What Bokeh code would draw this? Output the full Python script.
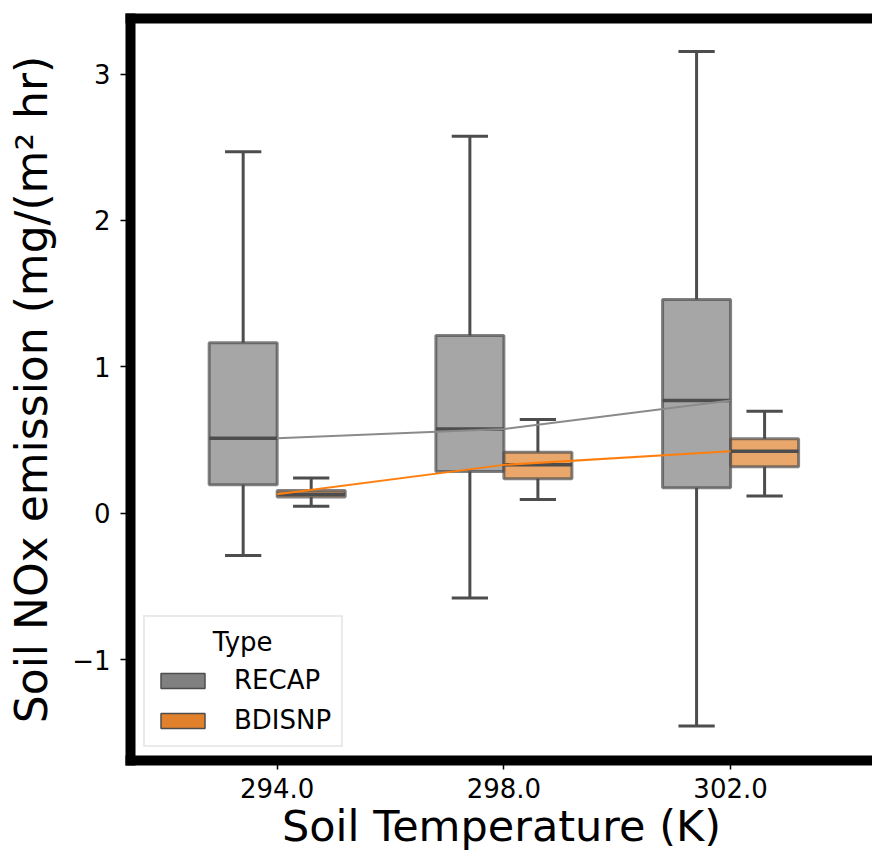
from bokeh.plotting import figure
from bokeh.models import (ColumnDataSource, Range1d, FixedTicker, LinearAxis,
                          Legend, LegendItem)
from bokeh.embed import file_html
from bokeh.resources import INLINE

# ---- data ----
temperatures = ["294.0", "298.0", "302.0"]
types = ["RECAP", "BDISNP"]

recap_low = [-0.29, -0.58, -1.455]
recap_q1 = [0.195, 0.285, 0.173]
recap_median = [0.512, 0.575, 0.77]
recap_q3 = [1.165, 1.214, 1.46]
recap_high = [2.47, 2.575, 3.155]

bdisnp_low = [0.047, 0.093, 0.118]
bdisnp_q1 = [0.11, 0.236, 0.318]
bdisnp_median = [0.13, 0.33, 0.423]
bdisnp_q3 = [0.155, 0.416, 0.508]
bdisnp_high = [0.24, 0.64, 0.697]

y_ticks = [-1, 0, 1, 2, 3]
y_tick_labels = ["\u22121", "0", "1", "2", "3"]

FONT = "DejaVu Sans"
LINE_DARK = "#4d4d4d"
GRAY = "#808080"
ORANGE = "#e1812c"
NAN = float("nan")

p = figure(width=872, height=856,
           x_range=Range1d(-0.647, 2.626), y_range=Range1d(-1.69, 3.38),
           output_backend="svg", toolbar_location=None,
           min_border_left=130, min_border_right=0,
           min_border_top=18, min_border_bottom=96)
p.outline_line_color = None
p.xgrid.visible = False
p.ygrid.visible = False
p.background_fill_color = "white"
p.border_fill_color = "white"

xpos = list(range(len(temperatures)))


def style_axis(ax):
    ax.axis_line_width = 10
    ax.axis_line_color = "black"
    ax.axis_line_cap = "square"
    ax.major_tick_in = 0
    ax.major_tick_out = 10
    ax.major_tick_line_width = 1.5
    ax.minor_tick_in = 0
    ax.minor_tick_out = 0
    ax.major_label_text_font = FONT
    ax.major_label_text_font_size = "26px"
    ax.major_label_text_color = "black"
    ax.axis_label_text_font = FONT
    ax.axis_label_text_font_style = "normal"
    ax.axis_label_text_color = "black"


xa = p.xaxis[0]
ya = p.yaxis[0]
style_axis(xa)
style_axis(ya)
xa.ticker = FixedTicker(ticks=xpos)
xa.major_label_overrides = {i: t for i, t in zip(xpos, temperatures)}
xa.major_tick_out = 9
xa.major_label_standoff = 8
xa.axis_label = "Soil Temperature (K)"
xa.axis_label_text_font_size = "43px"
xa.axis_label_standoff = 0

ya.ticker = FixedTicker(ticks=y_ticks)
ya.major_label_overrides = {v: t for v, t in zip(y_ticks, y_tick_labels)}
ya.major_label_standoff = 10
ya.axis_label = "Soil NOx emission (mg/(m\u00b2 hr)"
ya.axis_label_text_font_size = "44px"
ya.axis_label_standoff = 12

top = LinearAxis(ticker=FixedTicker(ticks=[]), axis_line_width=10,
                 axis_line_color="black", axis_line_cap="square",
                 major_tick_out=0, major_tick_in=0, minor_tick_out=0,
                 minor_tick_in=0, major_label_text_font_size="0px")
p.add_layout(top, "above")

BOX_W = 0.3
CAP_W = 0.16


def draw_boxes(low, q1, med, q3, high, side, fill):
    left = [x + (-BOX_W if side < 0 else 0) for x in xpos]
    right = [x + (0 if side < 0 else BOX_W) for x in xpos]
    center = [(a + b) / 2 for a, b in zip(left, right)]
    src = ColumnDataSource(dict(left=left, right=right, center=center,
                                cl=[c - CAP_W / 2 for c in center],
                                cr=[c + CAP_W / 2 for c in center],
                                low=low, q1=q1, med=med, q3=q3, high=high))
    p.quad(left="left", right="right", top="q3", bottom="q1", source=src,
           fill_color=fill, fill_alpha=0.7, line_color=LINE_DARK,
           line_alpha=0.7, line_width=3)
    p.segment(x0="center", y0="q3", x1="center", y1="high", source=src,
              line_color=LINE_DARK, line_width=3)
    p.segment(x0="center", y0="q1", x1="center", y1="low", source=src,
              line_color=LINE_DARK, line_width=3)
    p.segment(x0="cl", y0="high", x1="cr", y1="high", source=src,
              line_color=LINE_DARK, line_width=3)
    p.segment(x0="cl", y0="low", x1="cr", y1="low", source=src,
              line_color=LINE_DARK, line_width=3)
    p.segment(x0="left", y0="med", x1="right", y1="med", source=src,
              line_color=LINE_DARK, line_width=3.5)


draw_boxes(recap_low, recap_q1, recap_median, recap_q3, recap_high, -1, GRAY)
draw_boxes(bdisnp_low, bdisnp_q1, bdisnp_median, bdisnp_q3, bdisnp_high, 1, ORANGE)

# median trend lines
p.line(x=xpos, y=recap_median, line_color="#8a8a8a", line_width=2)
p.line(x=xpos, y=bdisnp_median, line_color="#ff7f0e", line_width=2)

# legend proxies (one undrawable row so the legend can render a swatch)
proxy = dict(l=[NAN], r=[NAN], t=[NAN], b=[NAN])
r1 = p.quad(left="l", right="r", top="t", bottom="b",
            source=ColumnDataSource(proxy), fill_color=GRAY,
            line_color=LINE_DARK, line_width=1.5)
r2 = p.quad(left="l", right="r", top="t", bottom="b",
            source=ColumnDataSource(dict(proxy)), fill_color=ORANGE,
            line_color=LINE_DARK, line_width=1.5)

legend = Legend(items=[LegendItem(label=types[0], renderers=[r1]),
                       LegendItem(label=types[1], renderers=[r2])],
                title="\u00a0" * 7 + "Type", location="bottom_left",
                label_text_font=FONT, label_text_font_size="26px",
                label_text_color="black",
                title_text_font=FONT, title_text_font_size="26px",
                title_text_font_style="normal", title_text_color="black",
                title_standoff=8,
                glyph_width=55, glyph_height=19, label_standoff=24,
                label_height=30, spacing=10, padding=10, margin=13,
                border_line_color="#d6d6d6", border_line_width=2,
                background_fill_color="white", background_fill_alpha=0.8)
p.add_layout(legend)

open("out.html", "w").write(file_html(p, INLINE))
